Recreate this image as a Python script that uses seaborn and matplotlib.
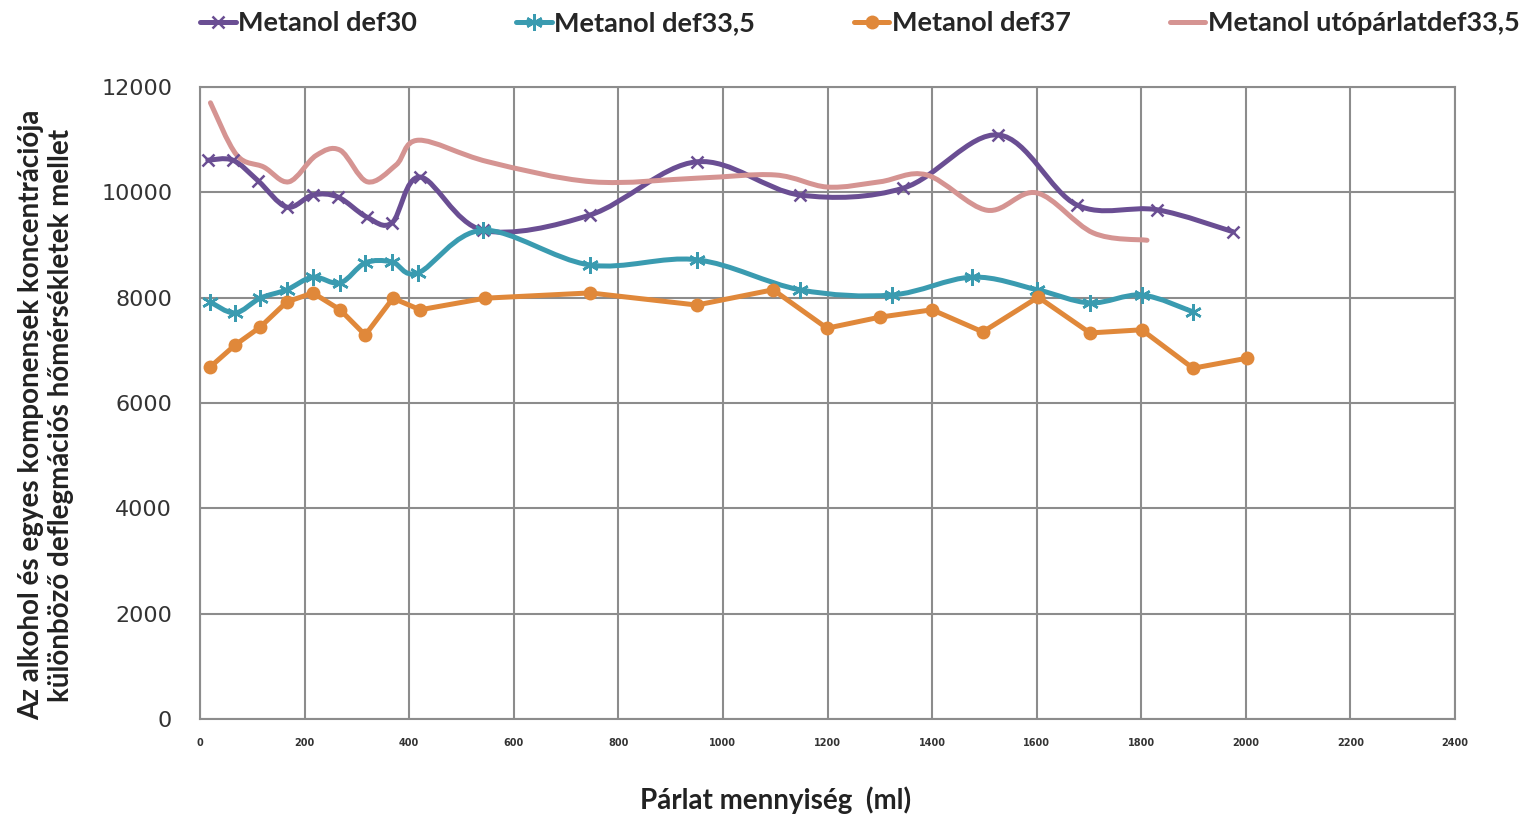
import numpy as np
import pandas as pd
import matplotlib
matplotlib.use("Agg")
import matplotlib.pyplot as plt
import seaborn as sns
from matplotlib.path import Path
from matplotlib.patches import PathPatch
from matplotlib.lines import Line2D

# values
def30_x = [15, 63, 111, 166, 216, 264, 319, 367, 421, 541, 746, 950, 1147, 1345, 1527, 1677, 1830, 1976]
def30_y = [10610, 10610, 10220, 9720, 9950, 9910, 9530, 9420, 10290, 9280, 9570, 10580, 9950, 10080, 11090, 9760, 9670, 9250]

def335_x = [19, 67, 115, 166, 216, 268, 316, 367, 417, 541, 746, 950, 1147, 1323, 1476, 1601, 1702, 1801, 1899]
def335_y = [7920, 7710, 7990, 8150, 8390, 8280, 8660, 8680, 8470, 9280, 8620, 8720, 8150, 8050, 8390, 8150, 7900, 8050, 7730]

def37_x = [19, 67, 115, 166, 216, 268, 316, 369, 421, 545, 746, 950, 1096, 1199, 1300, 1400, 1497, 1603, 1702, 1801, 1899, 2002]
def37_y = [6680, 7100, 7440, 7920, 8090, 7770, 7290, 7990, 7770, 7990, 8090, 7860, 8150, 7420, 7630, 7770, 7350, 8010, 7330, 7390, 6660, 6850]

uto_x = [20, 70, 122, 170, 222, 268, 320, 375, 418, 551, 750, 952, 1100, 1200, 1300, 1390, 1505, 1600, 1708, 1811]
uto_y = [11700, 10710, 10480, 10200, 10700, 10800, 10200, 10520, 10990, 10580, 10200, 10270, 10330, 10100, 10200, 10330, 9660, 9990, 9230, 9090]

labels = ["Metanol def30", "Metanol def33,5", "Metanol def37", "Metanol utópárlatdef33,5"]
colors = ["#6A4E93", "#3A9BB0", "#E0883A", "#D59492"]


def smooth_path(xs, ys):
    # Excel-style smoothed line: cubic bezier through the points
    pts = np.column_stack([xs, ys]).astype(float)
    n = len(pts)
    verts = [pts[0]]
    codes = [Path.MOVETO]
    for i in range(n - 1):
        p0 = pts[i - 1] if i > 0 else pts[i]
        p1 = pts[i]
        p2 = pts[i + 1]
        p3 = pts[i + 2] if i + 2 < n else pts[i + 1]
        verts += [p1 + (p2 - p0) / 6, p2 - (p3 - p1) / 6, p2]
        codes += [Path.CURVE4] * 3
    return Path(verts, codes)


sns.set_style("white")
fig = plt.figure(figsize=(15.22, 8.15), dpi=100)
ax = fig.add_axes([200 / 1522, 1 - 719 / 815, 1255 / 1522, 632 / 815])

smooth = [(def30_x, def30_y, colors[0], "x", 9),
          (def335_x, def335_y, colors[1], (6, 2, 0), 12),
          (uto_x, uto_y, colors[3], None, 0)]
for xs, ys, c, m, ms in smooth:
    ax.add_patch(PathPatch(smooth_path(xs, ys), facecolor="none", edgecolor=c,
                           lw=3.6, capstyle="round", joinstyle="round", zorder=3))
    if m is not None:
        ax.plot(xs, ys, linestyle="none", marker=m, markersize=ms,
                markeredgecolor=c, markeredgewidth=1.8, zorder=4)

df37 = pd.DataFrame({"x": def37_x, "y": def37_y})
sns.lineplot(data=df37, x="x", y="y", ax=ax, color=colors[2], lw=3.6,
             marker="o", markersize=10, markeredgewidth=0, zorder=5)

ax.set_xlim(0, 2400)
ax.set_ylim(0, 12000)
ax.set_xticks(np.arange(0, 2401, 200))
ax.set_yticks(np.arange(0, 12001, 2000))
ax.grid(True, color="#8C8C8C", lw=1.5)
ax.set_axisbelow(True)
for s in ax.spines.values():
    s.set_color("#8C8C8C")
    s.set_linewidth(1.5)
ax.tick_params(axis="both", length=0)
ax.tick_params(axis="y", labelsize=16, labelcolor="#333333", pad=20)
ax.tick_params(axis="x", labelsize=7, labelcolor="#333333", pad=14)
for t in ax.get_xticklabels():
    t.set_fontweight("bold")

ax.set_xlabel("Párlat mennyiség  (ml)", family="Lato", fontweight="bold",
              fontsize=20, color="#222222")
ax.xaxis.set_label_coords((776 - 200) / 1255, -(800 - 719) / 632)
ax.xaxis.label.set_verticalalignment("center")
ax.set_ylabel("Az alkohol és egyes komponensek koncentrációja\nkülönböző deflegmációs hőmérsékletek mellet",
              family="Lato", fontweight="bold", fontsize=20, color="#222222",
              linespacing=1.2)
ax.yaxis.set_label_coords((46 - 200) / 1255, (719 - 415) / 632)
ax.yaxis.label.set_verticalalignment("center")

handles = [
    Line2D([], [], color=colors[0], lw=3.6, marker="x", markersize=9, markeredgewidth=1.8),
    Line2D([], [], color=colors[1], lw=3.6, marker=(6, 2, 0), markersize=12, markeredgewidth=1.8),
    Line2D([], [], color=colors[2], lw=3.6, marker="o", markersize=10, markeredgewidth=0),
    Line2D([], [], color=colors[3], lw=3.6),
]
fig.legend(handles, labels, loc="upper left", bbox_to_anchor=(176 / 1522, 1.016),
           ncol=4, frameon=False, handlelength=1.3, handletextpad=0.08,
           columnspacing=3.68, prop={"family": "Lato", "weight": "bold", "size": 19.5})

fig.savefig("out.png", dpi=100)
